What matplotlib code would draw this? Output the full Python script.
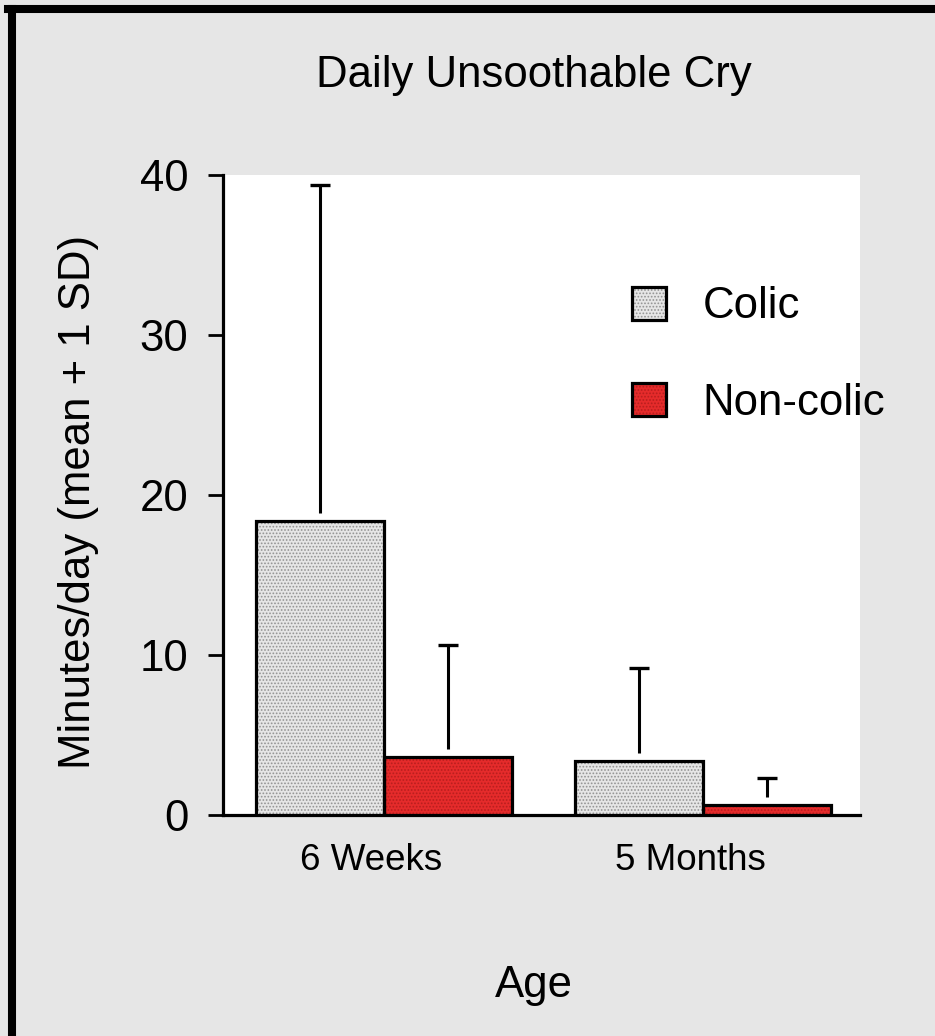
import matplotlib
matplotlib.use("Agg")
import matplotlib.pyplot as plt
from matplotlib.lines import Line2D
import numpy as np

plt.rcParams['font.family'] = ['Liberation Sans', 'DejaVu Sans']

# Data
ages = ['6 Weeks', '5 Months']
groups = ['Colic', 'Non-colic']
colic_mean = [18.4, 3.4]
colic_sd = [21.0, 5.8]
noncolic_mean = [3.6, 0.6]
noncolic_sd = [7.0, 1.7]

fill_colors = ['#e6e6e6', '#e52b2b']
dot_colors = ['#939393', '#b81e1e']

fig = plt.figure(figsize=(9.35, 10.36), dpi=100, facecolor='#e6e6e6')
ax = fig.add_axes([223 / 935, 221 / 1036, 637 / 935, 640 / 1036])
ax.set_facecolor('white')

x = np.arange(len(ages))
width = 0.4
plt.rcParams['hatch.linewidth'] = 0.8

handles = []
for i, (means, sds) in enumerate([(colic_mean, colic_sd), (noncolic_mean, noncolic_sd)]):
    pos = x - width / 2 + i * width
    # error bars (mean + 1 SD), drawn with a small gap above the bar
    ax.vlines(pos, np.array(means) + 0.5, np.array(means) + np.array(sds),
              color='black', lw=2.2, zorder=2)
    ax.plot(pos, np.array(means) + np.array(sds), ls='none', marker='_',
            ms=15, mew=2.4, color='black', zorder=2)
    fillb = ax.bar(pos, means, width, color=fill_colors[i], hatch='.....',
                   edgecolor=dot_colors[i], linewidth=0, zorder=3)
    edgeb = ax.bar(pos, means, width, fill=False, edgecolor='black',
                   linewidth=2.3, zorder=4)
    handles.append((fillb, edgeb))

ax.set_xlim(-0.505, 1.492)
ax.set_ylim(0, 40)
ax.set_yticks([0, 10, 20, 30, 40])
ax.set_xticks(x - 0.04)
ax.set_xticklabels(ages)

for s in ['top', 'right']:
    ax.spines[s].set_visible(False)
ax.spines['left'].set_linewidth(2.3)
ax.spines['bottom'].set_linewidth(2.3)
ax.tick_params(axis='y', direction='out', length=11, width=2.0, pad=14,
               labelsize=31.5)
ax.tick_params(axis='x', length=0, pad=20, labelsize=26.5)

leg = ax.legend(handles, groups, loc='upper left',
                bbox_to_anchor=(0.642, 0.826), frameon=False, fontsize=31.5,
                handlelength=0.78, handleheight=0.78, handletextpad=0.84,
                labelspacing=1.27, borderpad=0, borderaxespad=0)

fig.text(534 / 935, 1 - 75 / 1036, 'Daily Unsoothable Cry', ha='center',
         va='center', fontsize=31.5)
fig.text(79 / 935, 1 - 502 / 1036, 'Minutes/day (mean + 1 SD)', ha='center',
         va='center', rotation=90, fontsize=31.5)
fig.text(534 / 935, 1 - 985 / 1036, 'Age', ha='center', va='center',
         fontsize=31.5)

# black frame on the left and top edges
fig.add_artist(Line2D([12 / 935, 12 / 935], [0, 1 - 9 / 1036], lw=5.8,
                      color='black', transform=fig.transFigure))
fig.add_artist(Line2D([8 / 935, 1], [1 - 9 / 1036, 1 - 9 / 1036], lw=5.8,
                      color='black', transform=fig.transFigure))

fig.savefig('out.png', dpi=100, facecolor=fig.get_facecolor())
